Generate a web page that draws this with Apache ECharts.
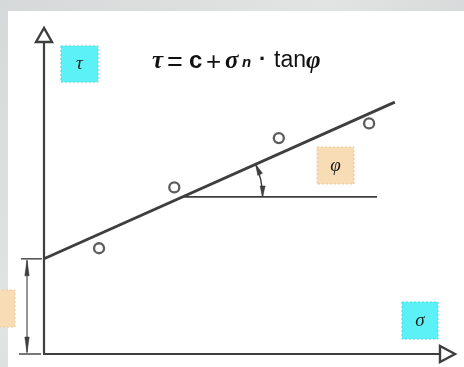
<!DOCTYPE html>
<html>
<head>
<meta charset="utf-8">
<script src="https://cdn.jsdelivr.net/npm/echarts@6/dist/echarts.min.js"></script>
<style>
  html, body { margin: 0; padding: 0; }
  body {
    width: 464px; height: 367px; overflow: hidden;
    background: linear-gradient(135deg, #d6d9d9 0%, #e2e4e3 40%, #cfd3d3 70%, #dcdfde 100%);
  }
  #chart { width: 464px; height: 367px; }
</style>
</head>
<body>
<div id="chart"></div>
<script>
// Measured shear tests: normal stress σ and shear strength τ
const sigma = [13.9, 32.9, 59.3, 82.1];
const tau = [33.9, 53.4, 69.2, 73.9];

// Mohr–Coulomb envelope τ = c + σ·tanφ
const cohesion = 30.5;
const tanPhi = 0.567;
const envelopeSigma = [0, 88.6];

// Horizontal reference line used to mark the friction angle φ
const refSigma = [35, 84.1];

// Axis extents
const sigmaMax = 100;
const tauMax = 100;

const INK = '#3e3e3e';

const chart = echarts.init(document.getElementById('chart'), null, { renderer: 'canvas' });

const envelope = envelopeSigma.map(s => [s, cohesion + tanPhi * s]);
const refTau = cohesion + tanPhi * refSigma[0];
const refLine = refSigma.map(s => [s, refTau]);

function arrowHead(tip, dir, len, half, color) {
  const bx = tip[0] - dir[0] * len, by = tip[1] - dir[1] * len;
  return {
    type: 'polygon',
    shape: { points: [tip, [bx - dir[1] * half, by + dir[0] * half], [bx + dir[1] * half, by - dir[0] * half]] },
    style: { fill: color, stroke: color, lineWidth: 0.5 }
  };
}

const boxText = {
  fontFamily: '"Liberation Serif", "DejaVu Serif", serif',
  fontStyle: 'italic',
  fontSize: 19,
  fill: '#1e1e1e',
  align: 'center',
  verticalAlign: 'middle'
};

const GREEK = 'italic bold 25px "Liberation Serif", serif';
const SANS = '"Liberation Sans", Arial, sans-serif';
function formulaPart(x, y, text, font) {
  return { type: 'text', x: x, y: y, style: { text: text, font: font, fill: '#111', verticalAlign: 'alphabetic' } };
}

chart.setOption({
  animation: false,
  grid: { left: 44, top: 42, width: 396, height: 312, containLabel: false },
  xAxis: {
    type: 'value', min: 0, max: sigmaMax,
    axisLine: { show: true, onZero: false, lineStyle: { color: INK, width: 2.2 } },
    axisTick: { show: false }, axisLabel: { show: false }, splitLine: { show: false }
  },
  yAxis: {
    type: 'value', min: 0, max: tauMax,
    axisLine: { show: true, onZero: false, lineStyle: { color: INK, width: 2.2 } },
    axisTick: { show: false }, axisLabel: { show: false }, splitLine: { show: false }
  },
  graphic: [
    // white sheet over the textured page
    { type: 'rect', z: -10, shape: { x: 8, y: 11, width: 460, height: 360 }, style: { fill: '#ffffff' } },
    // label boxes
    { type: 'rect', shape: { x: 61, y: 46, width: 37, height: 36 }, style: { fill: '#5cf1f6', stroke: '#3fdbe3', lineWidth: 1, lineDash: [2, 2] } },
    { type: 'text', x: 79.5, y: 64, style: Object.assign({ text: 'τ' }, boxText) },
    { type: 'rect', shape: { x: 317, y: 147, width: 37, height: 37 }, style: { fill: '#f8dcb6', stroke: '#efc99a', lineWidth: 1, lineDash: [2, 2] } },
    { type: 'text', x: 335.5, y: 166, style: Object.assign({ text: 'φ' }, boxText) },
    { type: 'rect', shape: { x: 402, y: 302, width: 36, height: 37 }, style: { fill: '#5cf1f6', stroke: '#3fdbe3', lineWidth: 1, lineDash: [2, 2] } },
    { type: 'text', x: 420, y: 321, style: Object.assign({ text: 'σ' }, boxText) },
    { type: 'rect', shape: { x: -22, y: 290, width: 37, height: 37 }, style: { fill: '#f8dcb6', stroke: '#efc99a', lineWidth: 1, lineDash: [2, 2] } },
    // formula
    formulaPart(152, 49, 'τ', GREEK),
    formulaPart(167, 50, '=', '27px ' + SANS),
    formulaPart(189, 49, 'c', 'bold 24px ' + SANS),
    formulaPart(206, 50, '+', '26px ' + SANS),
    formulaPart(225, 49, 'σ', GREEK),
    formulaPart(242, 55, 'n', 'italic bold 15px ' + SANS),
    formulaPart(259, 49, '·', 'bold 22px ' + SANS),
    formulaPart(274, 49, 'tan', '23px ' + SANS),
    formulaPart(306, 49, 'φ', GREEK)
  ],
  series: [
    {
      name: 'envelope', type: 'line', data: envelope, symbol: 'none', silent: true,
      lineStyle: { color: INK, width: 2.8 }, z: 2
    },
    {
      name: 'reference', type: 'line', data: refLine, symbol: 'none', silent: true,
      lineStyle: { color: INK, width: 1.6 }, z: 2
    },
    {
      name: 'tests', type: 'scatter', data: sigma.map((s, i) => [s, tau[i]]),
      symbol: 'circle', symbolSize: 10,
      itemStyle: { color: '#ffffff', borderColor: '#333333', borderWidth: 2.3 }, z: 4
    },
    {
      // axis arrowheads, cohesion dimension and friction-angle arc
      name: 'annotations', type: 'custom', data: [[0, 0]], silent: true, clip: false, z: 3,
      renderItem: function (params, api) {
        const origin = api.coord([0, 0]);
        const top = api.coord([0, tauMax]);
        const right = api.coord([sigmaMax, 0]);
        const cPt = api.coord([0, cohesion]);
        const children = [];
        // hollow arrowheads at the ends of the axes
        children.push({ type: 'polygon', shape: { points: [[top[0], top[1] - 14], [top[0] - 8, top[1]], [top[0] + 8, top[1]]] },
          style: { fill: '#fff', stroke: INK, lineWidth: 2.4, lineJoin: 'miter' } });
        children.push({ type: 'polygon', shape: { points: [[right[0] + 15, right[1]], [right[0], right[1] - 8], [right[0], right[1] + 8]] },
          style: { fill: '#fff', stroke: INK, lineWidth: 2.4, lineJoin: 'miter' } });
        // cohesion dimension line
        const dx = cPt[0] - 17;
        children.push({ type: 'line', shape: { x1: cPt[0] - 23, y1: cPt[1], x2: cPt[0] - 2, y2: cPt[1] }, style: { stroke: INK, lineWidth: 1.4 } });
        children.push({ type: 'line', shape: { x1: origin[0] - 25, y1: origin[1], x2: origin[0] - 3, y2: origin[1] }, style: { stroke: INK, lineWidth: 1.4 } });
        children.push({ type: 'line', shape: { x1: dx, y1: cPt[1] + 2, x2: dx, y2: origin[1] - 2 }, style: { stroke: INK, lineWidth: 1.1 } });
        children.push(arrowHead([dx, cPt[1] + 1], [0, -1], 16, 2.2, INK));
        children.push(arrowHead([dx, origin[1] - 1], [0, 1], 16, 2.2, INK));
        // friction angle arc between the reference line and the envelope
        const p0 = api.coord(envelope[0]);
        const p1 = api.coord(envelope[1]);
        const phiPx = Math.atan2(p0[1] - p1[1], p1[0] - p0[0]);
        const ctr = api.coord([refSigma[0], refTau]);
        const r = 80;
        children.push({ type: 'arc', shape: { cx: ctr[0], cy: ctr[1], r: r, startAngle: -phiPx, endAngle: 0, clockwise: true },
          style: { stroke: INK, lineWidth: 1.4, fill: null } });
        const topTip = [ctr[0] + r * Math.cos(phiPx), ctr[1] - r * Math.sin(phiPx)];
        children.push(arrowHead(topTip, [-Math.sin(phiPx), -Math.cos(phiPx)], 11, 2.6, INK));
        children.push(arrowHead([ctr[0] + r, ctr[1]], [0, 1], 11, 2.6, INK));
        return { type: 'group', children: children };
      }
    }
  ]
});
</script>
</body>
</html>
